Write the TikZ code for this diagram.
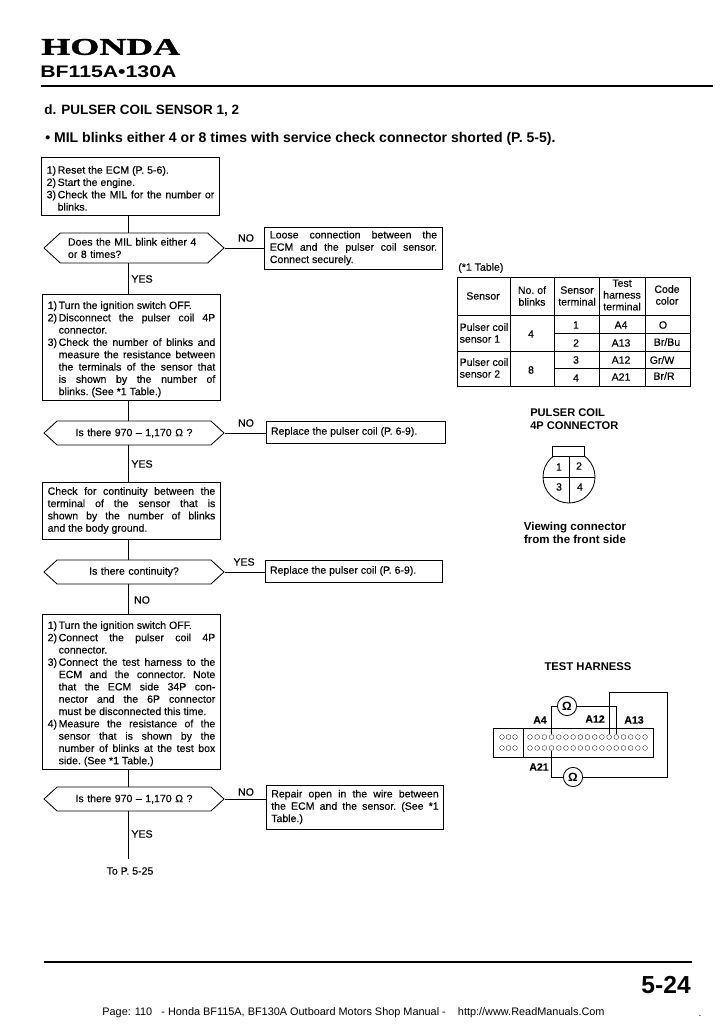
\documentclass[tikz,border=0pt]{standalone}
\usepackage{fontspec}
\usepackage{graphicx}
\setmainfont{Liberation Sans}
\newfontfamily\heavyfont[FakeBold=0.25]{Liberation Sans}
\newfontfamily\logofont[BoldFeatures={FakeBold=1.2}]{Liberation Serif}
\usetikzlibrary{shapes.symbols}
\newcommand{\stepline}[2]{\par\hangindent=0.275cm\hangafter=1\noindent\makebox[0.275cm][l]{#1}#2\par}
\tikzset{
  bodytext/.style={font=\heavyfont\fontsize{7.5}{8.75}\selectfont\frenchspacing},
  wire/.style={line width=0.6pt},
  stepbox/.style={draw,wire,bodytext,text width=4.19cm,inner xsep=0.125cm,inner ysep=0pt,align=justify},
  askbox/.style={draw,wire,bodytext,signal,signal to=west and east,signal pointer angle=85,inner xsep=0pt,inner ysep=0pt,minimum width=4.5cm,text width=3.3cm},
  answer/.style={bodytext,inner sep=0pt},
  cell/.style={bodytext,inner sep=0pt,align=center,font=\heavyfont\fontsize{7.5}{8.4}\selectfont\frenchspacing},
  heading/.style={inner sep=0pt,anchor=west,align=left,font=\bfseries\fontsize{7.9}{9.2}\selectfont},
  hole/.style={draw,circle,inner sep=0pt,minimum size=0.12cm,line width=0.2pt},
  meter/.style={draw,circle,wire,inner sep=0pt,minimum size=0.48cm,font=\bfseries\fontsize{8.5}{9}\selectfont}
}
\begin{document}
\begin{tikzpicture}[x=0.025cm,y=-0.025cm]
\useasboundingbox (0,0) rectangle (728,1030);

\node[inner sep=0pt,anchor=west] (v1) at (41,47) {\logofont\bfseries\fontsize{17}{17}\selectfont\scalebox{1.56}[1]{HONDA}};
\node[inner sep=0pt,anchor=west] (v2) at (40,72) {\bfseries\fontsize{11.9}{12}\selectfont\scalebox{1.27}[1]{BF115A•130A}};
\draw[line width=1.1pt] (41,86) -- (713,86);
\node[inner sep=0pt,anchor=west] (v3) at (44,111) {\bfseries\fontsize{9.6}{10}\selectfont d. PULSER COIL SENSOR 1, 2};
\node[inner sep=0pt,anchor=west] (v4) at (45,139) {\bfseries\fontsize{10}{11}\selectfont • MIL blinks either 4 or 8 times with service check connector shorted (P. 5-5).};

\coordinate (v0) at (128.5,0);

\node[stepbox,minimum height=1.45cm] (v5) at (130.5,186) {%
\stepline{1)}{Reset the ECM (P. 5-6).}
\stepline{2)}{Start the engine.}
\stepline{3)}{Check the MIL for the number or\linebreak blinks.}};
\node[askbox,minimum height=0.75cm] (v6) at (134,248) {Does the MIL blink either 4\\or 8 times?};
\node[stepbox,text width=4.18cm,minimum height=1.05cm] (v7) at (353.5,248) {Loose connection between the\linebreak ECM and the pulser coil sensor.\linebreak Connect securely.};
\node[answer] (v8) at (246,238) {NO};
\node[answer] (v9) at (142,279) {YES};
\node[stepbox,minimum height=2.65cm] (v10) at (131.5,347) {%
\stepline{1)}{Turn the ignition switch OFF.}
\stepline{2)}{Disconnect the pulser coil 4P\linebreak connector.}
\stepline{3)}{Check the number of blinks and\linebreak measure the resistance between\linebreak the terminals of the sensor that\linebreak is shown by the number of\linebreak blinks. (See *1 Table.)}};
\node[askbox,minimum height=0.6cm,align=center] (v11) at (134,433) {Is there 970 – 1,170 Ω ?\hspace*{0.15cm}};
\node[stepbox,text width=4.225cm,minimum height=0.55cm] (v12) at (355.5,432) {Replace the pulser coil (P. 6-9).};
\node[answer] (v13) at (246,423) {NO};
\node[answer] (v14) at (142,464) {YES};
\node[stepbox,minimum height=1.425cm] (v15) at (131.5,510.5) {Check for continuity between the\linebreak terminal of the sensor that is\linebreak shown by the number of blinks\linebreak and the body ground.};
\node[askbox,minimum height=0.6cm,align=center] (v16) at (134,572) {Is there continuity?\hspace*{0.3cm}};
\node[stepbox,text width=4.175cm,minimum height=0.55cm] (v17) at (353.5,571) {Replace the pulser coil (P. 6-9).};
\node[answer] (v18) at (244,562) {YES};
\node[answer] (v19) at (142,600) {NO};
\node[stepbox,minimum height=3.875cm] (v20) at (131.5,691.5) {%
\stepline{1)}{Turn the ignition switch OFF.}
\stepline{2)}{Connect the pulser coil 4P\linebreak connector.}
\stepline{3)}{Connect the test harness to the\linebreak ECM and the connector. Note\linebreak that the ECM side 34P con-\linebreak nector and the 6P connector\linebreak must be disconnected this time.}
\stepline{4)}{Measure the resistance of the\linebreak sensor that is shown by the\linebreak number of blinks at the test box\linebreak side. (See *1 Table.)}};
\node[askbox,minimum height=0.6cm,align=center] (v21) at (134,799) {Is there 970 – 1,170 Ω ?\hspace*{0.15cm}};
\node[stepbox,text width=4.185cm,minimum height=1.1cm] (v22) at (355,807) {Repair open in the wire between\linebreak the ECM and the sensor. (See *1\linebreak Table.)};
\node[answer] (v23) at (246,792) {NO};
\node[answer] (v24) at (142,834) {YES};
\coordinate (v25) at (128.5,859);
\node[answer] (v26) at (130,871) {To P. 5-25};

\draw[wire] (v5.south -| v0) -- (v6.north -| v0);
\draw[wire] (v6.south -| v0) -- (v10.north -| v0);
\draw[wire] (v10.south -| v0) -- (v11.north -| v0);
\draw[wire] (v11.south -| v0) -- (v15.north -| v0);
\draw[wire] (v15.south -| v0) -- (v16.north -| v0);
\draw[wire] (v16.south -| v0) -- (v20.north -| v0);
\draw[wire] (v20.south -| v0) -- (v21.north -| v0);
\draw[wire] (v21.south -| v0) -- (v25);
\draw[wire] (v6.east) -- (v6.east -| v7.west);
\draw[wire] (v11.east) -- (v11.east -| v12.west);
\draw[wire] (v16.east) -- (v16.east -| v17.west);
\draw[wire] (v21.east) -- (v21.east -| v22.west);

\node[answer,anchor=west] (v27) at (458,268) {(*1 Table)};
\draw[wire] (457,277) rectangle (690,386);
\draw[wire] (510,277) -- (510,386);
\draw[wire] (554,277) -- (554,386);
\draw[wire] (599,277) -- (599,386);
\draw[wire] (645,277) -- (645,386);
\draw[wire] (457,315) -- (690,315);
\draw[wire] (457,351) -- (690,351);
\draw[wire] (554,333) -- (690,333);
\draw[wire] (554,368) -- (690,368);
\node[cell] (v28) at (483,296) {Sensor};
\node[cell] (v29) at (532,296) {No. of\\blinks};
\node[cell] (v30) at (577,296) {Sensor\\terminal};
\node[cell] (v31) at (622,295) {Test\\harness\\terminal};
\node[cell] (v32) at (667,295) {Code\\color};
\node[cell,align=left] (v33) at (484,333) {Pulser coil\\sensor 1};
\node[cell,align=left] (v34) at (484,368) {Pulser coil\\sensor 2};
\node[cell] (v35) at (531,334) {4};
\node[cell] (v36) at (531,370) {8};
\node[cell] (v37) at (576,325) {1};
\node[cell] (v38) at (576,343) {2};
\node[cell] (v39) at (576,360) {3};
\node[cell] (v40) at (576,378) {4};
\node[cell] (v41) at (621,325) {A4};
\node[cell] (v42) at (621,343) {A13};
\node[cell] (v43) at (621,360) {A12};
\node[cell] (v44) at (621,377) {A21};
\node[cell] (v45) at (663,325) {O};
\node[cell] (v46) at (667,342) {Br/Bu};
\node[cell] (v47) at (662,360) {Gr/W};
\node[cell] (v48) at (664,376) {Br/R};

\node[heading] (v49) at (530,419.5) {PULSER COIL\\4P CONNECTOR};
\node[draw,wire,circle,inner sep=0pt,minimum size=1.3cm] (v50) at (569,477) {};
\node[draw,wire,fill=white,inner sep=0pt,minimum width=0.78cm,minimum height=0.25cm] (v51) at (568.5,451) {};
\draw[wire] (v51.south -| v50) -- (v50.south);
\draw[wire] (v50.west) -- (v50.east);
\node[cell] (v52) at (559,467) {1};
\node[cell] (v53) at (579,466) {2};
\node[cell] (v54) at (559,487) {3};
\node[cell] (v55) at (580,487) {4};
\node[heading,anchor=center,align=center,font=\bfseries\fontsize{8.2}{9.2}\selectfont] (v56) at (575,532.5) {Viewing connector\\from the front side};

\node[heading,anchor=center,font=\bfseries\fontsize{8}{9.2}\selectfont] (v57) at (588,667) {TEST HARNESS};
\node[draw,wire,inner sep=0pt,minimum width=4cm,minimum height=0.725cm] (v58) at (573,742.5) {};
\draw[wire] (523,728) -- (523,757);
\foreach \i/\x in {1/502,2/508.5,3/515} {
  \node[hole] (l\i) at (\x,737) {};
  \node[hole] (m\i) at (\x,748) {};
}
\foreach \i in {1,...,17} {
  \node[hole] (a\i) at ({530+(\i-1)*7.19},737) {};
  \node[hole] (b\i) at ({530+(\i-1)*7.19},748) {};
}
\node[meter] (v59) at (567,706) {Ω};
\node[meter] (v60) at (573,777) {Ω};
\coordinate (v61) at (667,692);
\coordinate (v62) at (667,777);
\draw[wire] (a4) |- (v59);
\draw[wire] (v59) -| (a13);
\draw[wire] (a12) |- (v61) -- (v62) -- (v60);
\draw[wire] (b4) |- (v60);
\node[answer] (v63) at (540,720) {\bfseries A4};
\node[answer] (v64) at (595,719) {\bfseries A12};
\node[answer] (v65) at (634,720) {\bfseries A13};
\node[answer] (v66) at (539,767) {\bfseries A21};

\draw[line width=1.1pt] (44,962) -- (692,962);
\node[inner sep=0pt,anchor=east] (v67) at (691,985) {\bfseries\fontsize{17.5}{18}\selectfont 5-24};
\node[inner sep=0pt] (v68) at (353.5,1013) {\fontsize{7.75}{8}\selectfont Page: 110\ \ \ - Honda BF115A, BF130A Outboard Motors Shop Manual -\ \ \ \ http://www.ReadManuals.Com};
\node[inner sep=0pt] (v69) at (700,1016) {\fontsize{7.2}{8}\selectfont .};
\end{tikzpicture}
\end{document}
